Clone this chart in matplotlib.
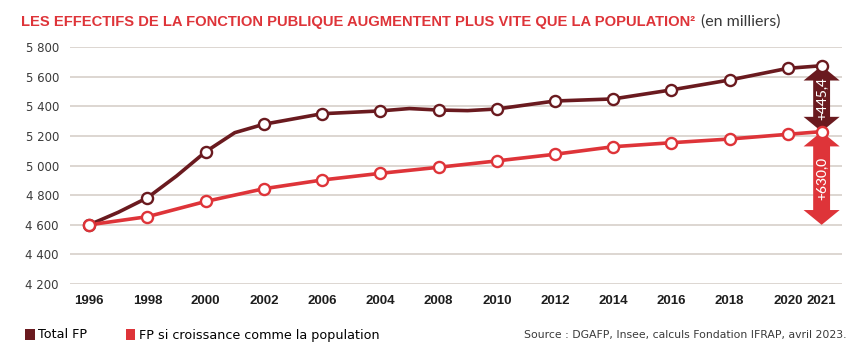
"""Effectifs de la fonction publique vs. croissance de la population (en milliers)."""

import matplotlib

matplotlib.use("Agg")
import matplotlib.pyplot as plt
import numpy as np
from matplotlib.axes import Axes
from matplotlib.patches import Patch, Polygon

# ---------------------------------------------------------------------------
# Data
# ---------------------------------------------------------------------------

tick_labels = ["1996", "1998", "2000", "2002", "2006", "2004", "2008",
               "2010", "2012", "2014", "2016", "2018", "2020", "2021"]
# slot of each label on the axis (2021 sits close to 2020)
tick_slots = [0, 1, 2, 3, 4, 5, 6, 7, 8, 9, 10, 11, 12, 12.58]

total_fp = [4600, 4783, 5094, 5280, 5351, 5370, 5376,
            5383, 5437, 5451, 5512, 5579, 5658, 5675.4]
fp_population = [4600, 4655, 4758, 4844, 4903, 4948, 4989,
                 5032, 5077, 5128, 5155, 5180, 5212, 5230.0]

# unmarked points where the Total FP line bends between markers
total_bend_slots = [0.5, 1.5, 2.5, 5.5, 6.5]
total_bend_values = [4685, 4930, 5223, 5386, 5372]

y_ticks = [4200, 4400, 4600, 4800, 5000, 5200, 5400, 5600, 5800]

DARK = "#6a1a1f"
RED = "#de3439"
GRID = "#ddd6d1"
TEXT = "#3a3a3a"

TITLE = ("LES EFFECTIFS DE LA FONCTION PUBLIQUE AUGMENTENT "
         "PLUS VITE QUE LA POPULATION²")
TITLE_WIDTH_PX = 678


def _fmt_thousands(value: float) -> str:
    return f"{int(value):,}".replace(",", " ")


def _fmt_gain(value: float) -> str:
    return f"+{value:.1f}".replace(".", ",")


def _double_arrow(axis: Axes, x: float, low: float, high: float,
                  color: str, label: str) -> None:
    head_half = 0.31
    shaft_half = 0.145
    head_len = 100
    verts = [
        (x, high),
        (x + head_half, high - head_len),
        (x + shaft_half, high - head_len),
        (x + shaft_half, low + head_len),
        (x + head_half, low + head_len),
        (x, low),
        (x - head_half, low + head_len),
        (x - shaft_half, low + head_len),
        (x - shaft_half, high - head_len),
        (x - head_half, high - head_len),
    ]
    axis.add_patch(Polygon(verts, closed=True, facecolor=color,
                           edgecolor="none", zorder=2, clip_on=False))
    axis.text(x, (low + high) / 2, label, rotation=90, color="white",
              ha="center", va="center", fontsize=10, family="Lato",
              fontweight="medium", zorder=5)


def main() -> None:
    fig = plt.figure(figsize=(8.65, 3.56), dpi=100)
    ax = fig.add_axes([70 / 865, 72 / 356, 772 / 865, 236.7 / 356])

    for val in y_ticks:
        ax.axhline(val, color=GRID, linewidth=1.4, zorder=0)

    # lines (with the unmarked bends merged in for the dark curve)
    order = np.argsort(tick_slots + total_bend_slots)
    curve_x = np.array(tick_slots + total_bend_slots)[order]
    curve_y = np.array(total_fp + total_bend_values)[order]
    ax.plot(curve_x, curve_y, color=DARK, linewidth=2.6,
            solid_joinstyle="round", solid_capstyle="round", zorder=3)
    ax.plot(tick_slots, fp_population, color=RED, linewidth=2.6,
            solid_joinstyle="round", zorder=3)

    # gap arrows at the last year
    last_x = tick_slots[-1]
    _double_arrow(ax, last_x, fp_population[-1], total_fp[-1], DARK,
                  _fmt_gain(total_fp[-1] - fp_population[-1]))
    _double_arrow(ax, last_x, fp_population[0], fp_population[-1], RED,
                  _fmt_gain(fp_population[-1] - fp_population[0]))

    for series, color in ((total_fp, DARK), (fp_population, RED)):
        ax.plot(tick_slots, series, linestyle="none", marker="o",
                markersize=8, markerfacecolor="white", markeredgecolor=color,
                markeredgewidth=1.7, zorder=4, clip_on=False)

    ax.set_xlim(-0.33, 12.93)
    ax.set_ylim(4200, 5800)
    ax.set_yticks(y_ticks)
    ax.set_yticklabels([_fmt_thousands(v) for v in y_ticks],
                       fontsize=8.5, color=TEXT, family="DejaVu Sans")
    ax.set_xticks(tick_slots)
    ax.set_xticklabels(tick_labels, fontsize=9.5, fontweight="bold",
                       color="#1e1e1e", family="Liberation Sans")
    ax.tick_params(axis="y", length=0, pad=8)
    ax.tick_params(axis="x", length=0, pad=8)
    for spine in ax.spines.values():
        spine.set_visible(False)

    # title: bold red part fitted to the reference width, then the unit
    title = fig.text(21 / 865, 1 - 25.7 / 356, TITLE, color=RED,
                     fontsize=11.5, fontweight="bold",
                     family="Liberation Sans", va="baseline")
    fig.canvas.draw()
    width = title.get_window_extent().width
    title.set_fontsize(11.5 * TITLE_WIDTH_PX / width)
    fig.canvas.draw()
    x_end = title.get_window_extent().x1
    fig.text((x_end + 6) / fig.bbox.width, 1 - 25.7 / 356, "(en milliers)",
             color=TEXT, fontsize=11.5, family="Lato", va="baseline")

    handles = [Patch(facecolor=DARK, label="Total FP"),
               Patch(facecolor=RED, label="FP si croissance comme la population")]
    fig.legend(handles=handles, loc="center left",
               bbox_to_anchor=(25 / 865, 1 - 335 / 356), ncol=2,
               frameon=False, handlelength=0.75, handleheight=0.95,
               handletextpad=0.3, columnspacing=3.0,
               borderpad=0, borderaxespad=0,
               prop={"family": "DejaVu Sans", "size": 9.2})
    fig.text(847 / 865, 1 - 335 / 356,
             "Source : DGAFP, Insee, calculs Fondation IFRAP, avril 2023.",
             ha="right", va="center", fontsize=7.8, color=TEXT,
             family="DejaVu Sans")

    fig.savefig("out.png", dpi=100)


if __name__ == "__main__":
    main()
